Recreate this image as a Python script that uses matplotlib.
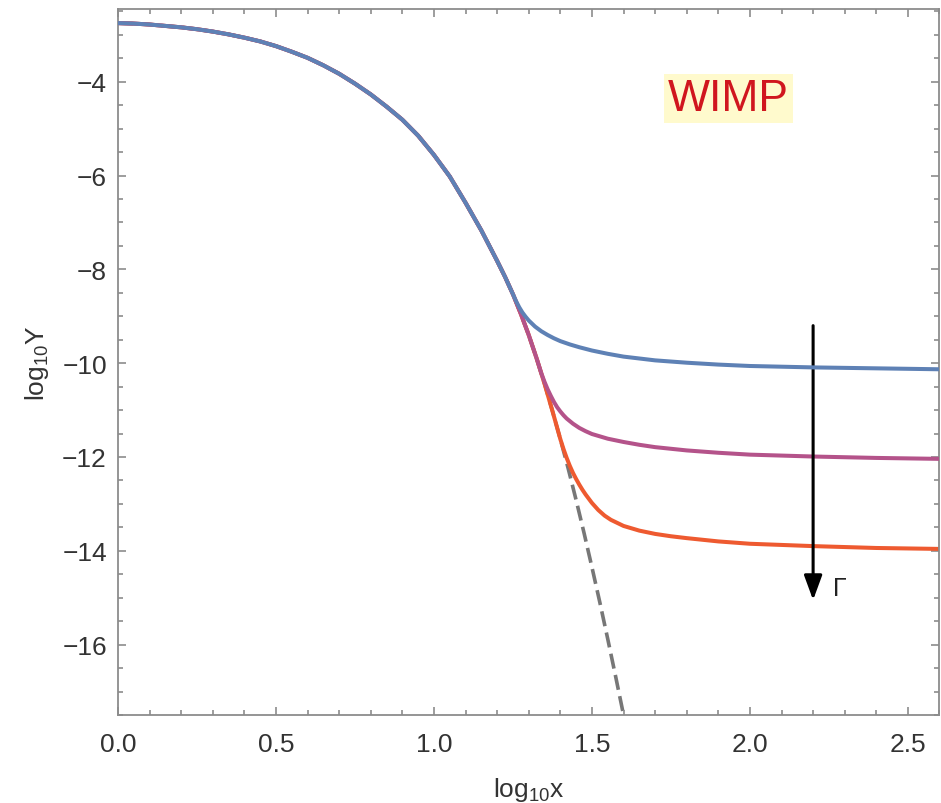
import numpy as np
import matplotlib.pyplot as plt

plt.rcParams['font.family'] = ['Liberation Sans', 'DejaVu Sans']
plt.rcParams['mathtext.fontset'] = 'custom'
plt.rcParams['mathtext.rm'] = 'Liberation Sans'

# equilibrium curve (log10 x, log10 Y)
eq_x = [0.00, 0.05, 0.10, 0.15, 0.20, 0.25, 0.30, 0.35, 0.40, 0.45, 0.50, 0.55,
        0.60, 0.65, 0.70, 0.75, 0.80, 0.85, 0.90, 0.95, 1.00, 1.05, 1.10, 1.15,
        1.20, 1.225, 1.25, 1.275, 1.30, 1.325, 1.35, 1.375, 1.40, 1.425, 1.45,
        1.475, 1.50, 1.525, 1.55, 1.575, 1.60, 1.625]
eq_y = [-2.75, -2.76, -2.78, -2.81, -2.84, -2.88, -2.93, -2.99, -3.06, -3.14, -3.24, -3.36,
        -3.49, -3.65, -3.83, -4.04, -4.27, -4.53, -4.81, -5.15, -5.56, -6.02, -6.58, -7.17,
        -7.82, -8.16, -8.53, -8.95, -9.40, -9.90, -10.44, -11.02, -11.62, -12.25, -12.92,
        -13.62, -14.35, -15.10, -15.88, -16.68, -17.50, -18.35]

# freeze-out branches (where they leave the equilibrium curve onwards)
blue_x = [1.26, 1.27, 1.28, 1.29, 1.30, 1.32, 1.34, 1.36, 1.38, 1.40, 1.43, 1.46, 1.50,
          1.55, 1.60, 1.65, 1.70, 1.80, 1.90, 2.00, 2.20, 2.40, 2.60]
blue_y = [-8.68, -8.81, -8.92, -9.01, -9.09, -9.22, -9.32, -9.40, -9.47, -9.53, -9.60, -9.66, -9.73,
          -9.80, -9.86, -9.90, -9.94, -9.99, -10.03, -10.06, -10.09, -10.11, -10.13]

purple_x = [1.34, 1.35, 1.36, 1.37, 1.38, 1.39, 1.40, 1.41, 1.42, 1.44, 1.46, 1.48, 1.50,
            1.55, 1.60, 1.65, 1.70, 1.80, 1.90, 2.00, 2.20, 2.40, 2.60]
purple_y = [-10.22, -10.40, -10.56, -10.70, -10.83, -10.94, -11.03, -11.11, -11.18, -11.29, -11.38, -11.45, -11.51,
            -11.61, -11.68, -11.74, -11.79, -11.86, -11.91, -11.95, -11.99, -12.02, -12.04]

red_x = [1.41, 1.42, 1.43, 1.44, 1.45, 1.46, 1.47, 1.48, 1.50, 1.52, 1.54, 1.56, 1.60,
         1.65, 1.70, 1.75, 1.80, 1.90, 2.00, 2.20, 2.40, 2.60]
red_y = [-11.83, -12.02, -12.19, -12.34, -12.47, -12.59, -12.70, -12.80, -12.98, -13.13, -13.25, -13.34, -13.47,
         -13.57, -13.64, -13.69, -13.73, -13.80, -13.85, -13.90, -13.94, -13.96]

x_ticks = [0.0, 0.5, 1.0, 1.5, 2.0, 2.5]
y_ticks = [-16, -14, -12, -10, -8, -6, -4]


def branch(bx, by):
    # equilibrium part before the branch starts, then the branch itself
    ex = np.array(eq_x)
    ey = np.array(eq_y)
    keep = ex < bx[0]
    return np.concatenate([ex[keep], bx]), np.concatenate([ey[keep], by])


fig = plt.figure(figsize=(9.41, 8.04), dpi=100)
ax = fig.add_axes([0.1254, 0.1095, 0.873, 0.878])

line_kw = dict(lw=2.9, solid_joinstyle='round', solid_capstyle='round')
ax.plot(eq_x, eq_y, color='#777777', lw=2.6, ls=(0, (4.2, 1.8)), zorder=1)
rx, ry = branch(red_x, red_y)
ax.plot(rx, ry, color='#EE5A30', zorder=2, **line_kw)
px, py = branch(purple_x, purple_y)
ax.plot(px, py, color='#B4538A', zorder=3, **line_kw)
bx, by = branch(blue_x, blue_y)
ax.plot(bx, by, color='#5E81B5', zorder=4, **line_kw)

# arrow for increasing Gamma
ax.annotate('', xy=(2.20, -15.05), xytext=(2.20, -9.2),
            arrowprops=dict(arrowstyle='-|>,head_length=1.5,head_width=0.55',
                            color='black', lw=2.2, shrinkA=0, shrinkB=0))
ax.text(2.262, -14.8, 'Γ', fontsize=18, color='#222222', ha='left', va='center')

ax.text(1.932, -4.36, 'WIMP', fontsize=32, color='#D0161E', ha='center', va='center',
        bbox=dict(facecolor='#FFFACD', edgecolor='none', pad=3))

ax.set_xlim(0, 2.6)
ax.set_ylim(-17.5, -2.45)
ax.set_xticks(x_ticks)
ax.set_yticks(y_ticks)
ax.set_xticklabels(['%.1f' % t for t in x_ticks])
ax.set_yticklabels(['\u2212%d' % abs(t) for t in y_ticks])
ax.set_xticks(np.arange(0, 2.61, 0.1), minor=True)
ax.set_yticks(np.arange(-17.5, -2.4, 0.5), minor=True)
ax.tick_params(which='both', direction='in', top=True, right=True, color='#8c8c8c',
               labelsize=19, labelcolor='#333333', width=1.2)
ax.tick_params(which='major', length=6)
ax.tick_params(which='minor', length=3.5)
ax.tick_params(axis='x', pad=12)
ax.tick_params(axis='y', pad=8)
for s in ax.spines.values():
    s.set_color('#8c8c8c')
    s.set_linewidth(1.3)

ax.set_xlabel(r'$\mathregular{log_{10}x}$', fontsize=19, color='#333333', labelpad=14)
ax.set_ylabel(r'$\mathregular{log_{10}Y}$', fontsize=19, color='#333333', labelpad=8)

fig.savefig('out.png', dpi=100)
